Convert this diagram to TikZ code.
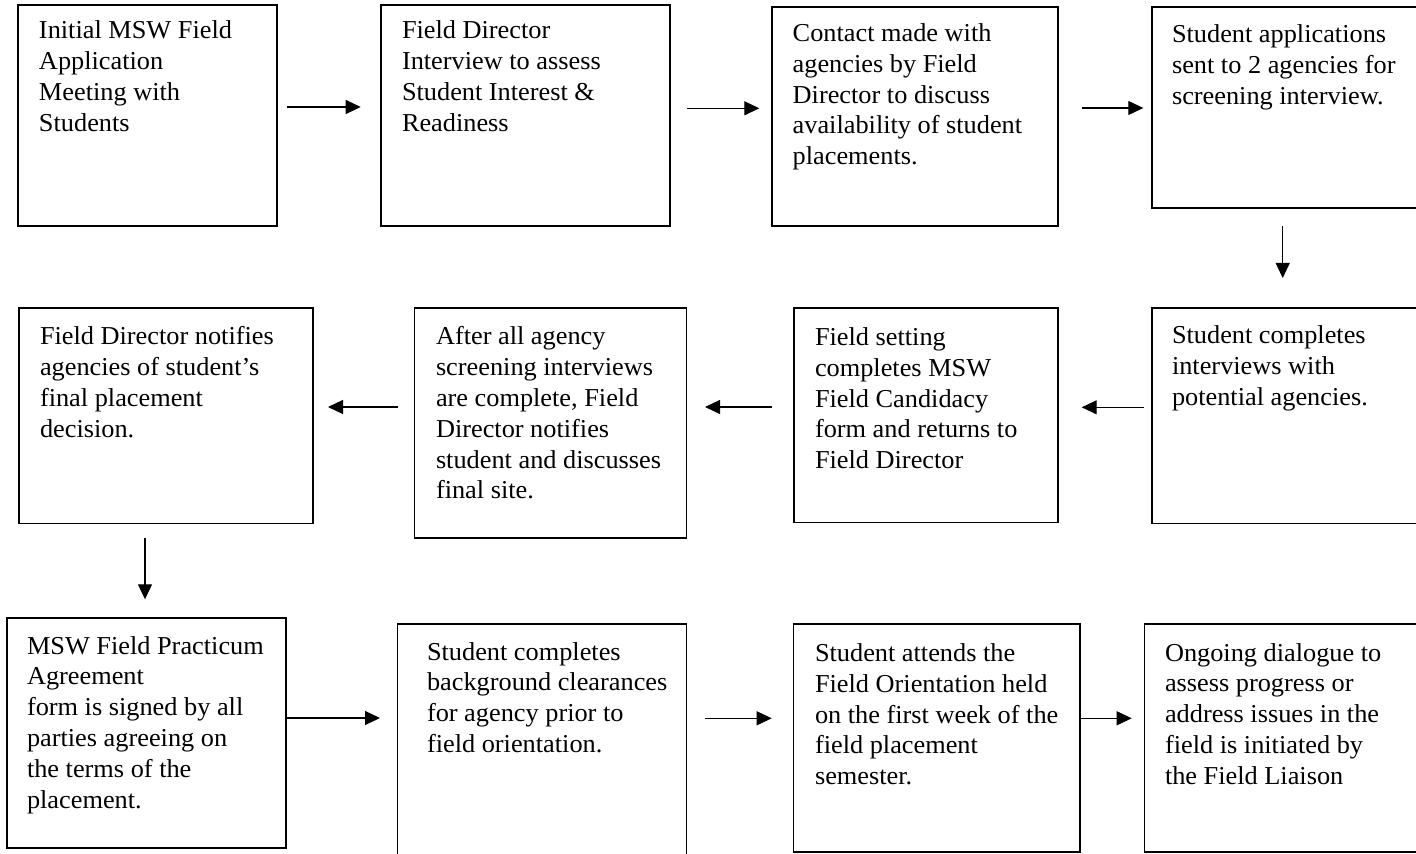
\documentclass[tikz,border=0pt]{standalone}
\usepackage{fontspec}
\setmainfont{Liberation Serif}[FakeStretch=1.02]
\usetikzlibrary{arrows.meta}
\newcommand\tlines[1]{\vtop{\baselineskip=15.4pt\lineskiplimit=-20pt\lineskip=0pt\halign{##\hfil\cr#1\crcr}}}
\newcommand\mkbox[5]{\node[stepbox, anchor=north west, minimum width={(#4-#2)*0.5pt}, minimum height={(#5-#3)*0.5pt}] (#1) at (#2,#3) {};}
\tikzset{
  stepbox/.style={draw=black, line width=0.6pt, inner sep=0pt, outer sep=0pt},
  txt/.style={anchor=base west, inner sep=0pt, outer sep=0pt, font=\fontsize{12.9}{15.4}\selectfont},
  arr/.style={draw=black, line width=0.55pt, -{Triangle[length=7.5pt,width=7pt]}}
}
\begin{document}
\begin{tikzpicture}[x=0.5pt,y=-0.5pt]
\fill[white] (0,0) rectangle (1416,854);
\useasboundingbox (0,0) rectangle (1416,854);
\clip (0,0) rectangle (1416,854);
% boxes
\mkbox{b1}{18}{5}{277}{226}
\mkbox{b2}{381}{5}{670}{226}
\mkbox{b3}{772}{7}{1058}{226}
\mkbox{b4}{1152}{7}{1440}{208}
\mkbox{b5}{1152}{308}{1440}{523.5}
\mkbox{b6}{794}{308}{1058}{522.5}
\mkbox{b7}{414.5}{308}{686.5}{538}
\mkbox{b8}{19}{308}{313}{523.5}
\mkbox{b9}{7}{618}{286}{848}
\mkbox{b10}{397.5}{624}{686.5}{880}
\mkbox{b11}{793.5}{624}{1080}{852}
\mkbox{b12}{1144.5}{624}{1440}{852}
% texts
\node[txt] (t1) at (39,39) {\tlines{Initial MSW Field\cr Application\cr Meeting with\cr Students}};
\node[txt] (t2) at (402,39) {\tlines{Field Director\cr Interview to assess\cr Student Interest \&\cr Readiness}};
\node[txt] (t3) at (792.7,41.5) {\tlines{Contact made with\cr agencies by Field\cr Director to discuss\cr availability of student\cr placements.}};
\node[txt] (t4) at (1172,42.5) {\tlines{Student applications\cr sent to 2 agencies for\cr screening interview.}};
\node[txt] (t5) at (1172,344) {\tlines{Student completes\cr interviews with\cr potential agencies.}};
\node[txt] (t6) at (815,345.5) {\tlines{Field setting\cr completes MSW\cr Field Candidacy\cr form and returns to\cr Field Director}};
\node[txt] (t7) at (436,345) {\tlines{After all agency\cr screening interviews\cr are complete, Field\cr Director notifies\cr student and discusses\cr final site.}};
\node[txt] (t8) at (40,345) {\tlines{Field Director notifies\cr agencies of student’s\cr final placement\cr decision.}};
\node[txt] (t9) at (27,654) {\tlines{MSW Field Practicum\cr Agreement\cr form is signed by all\cr parties agreeing on\cr the terms of the\cr placement.}};
\node[txt] (t10) at (427,660) {\tlines{Student completes\cr background clearances\cr for agency prior to\cr field orientation.}};
\node[txt] (t11) at (815,661.5) {\tlines{Student attends the\cr Field Orientation held\cr on the first week of the\cr field placement\cr semester.}};
\node[txt] (t12) at (1165,661) {\tlines{Ongoing dialogue to\cr assess progress or\cr address issues in the\cr field is initiated by\cr the Field Liaison}};
% arrow end points
\coordinate (a1s) at (286.7,107);   \coordinate (a1e) at (360.7,107);
\coordinate (a2s) at (686.7,108.3); \coordinate (a2e) at (759.3,108.3);
\coordinate (a3s) at (1081.7,108);  \coordinate (a3e) at (1143.3,108);
\coordinate (d1s) at (1282.7,226);  \coordinate (d1e) at (1282.7,278);
\coordinate (a4s) at (1144,407.3);  \coordinate (a4e) at (1081.7,407.3);
\coordinate (a5s) at (771.7,407);   \coordinate (a5e) at (705,407);
\coordinate (a6s) at (398,407);     \coordinate (a6e) at (328,407);
\coordinate (d2s) at (145,538);     \coordinate (d2e) at (145,599.3);
\coordinate (a7e) at (380,718);
\coordinate (a8s) at (705,718.3);   \coordinate (a8e) at (771.7,718.3);
\coordinate (a9e) at (1131.7,718.3);
% arrows
\draw[arr] (a1s) -- (a1e);
\draw[arr] (a2s) -- (a2e);
\draw[arr] (a3s) -- (a3e);
\draw[arr] (d1s) -- (d1e);
\draw[arr] (a4s) -- (a4e);
\draw[arr] (a5s) -- (a5e);
\draw[arr] (a6s) -- (a6e);
\draw[arr] (d2s) -- (d2e);
\draw[arr] (b9.east |- a7e) -- (a7e);
\draw[arr] (a8s) -- (a8e);
\draw[arr] (b11.east |- a9e) -- (a9e);
\end{tikzpicture}
\end{document}
